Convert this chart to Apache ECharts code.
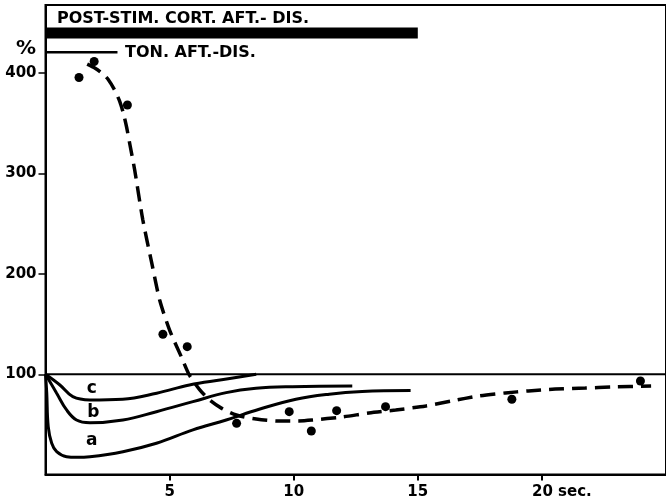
<!DOCTYPE html>
<html><head><meta charset="utf-8">
<script src="https://cdn.jsdelivr.net/npm/echarts@6/dist/echarts.min.js"></script>
<style>html,body{margin:0;padding:0;background:#fff}#c{width:666px;height:501px}</style>
</head><body><div id="c"></div>
<script>
const xTicks = [5, 10, 15, 20];
const yTicks = [100, 200, 300, 400];
const xLabels = ['5', '10', '15', '20'];
const yLabels = ['100', '200', '300', '400'];
const xUnit = 'sec.';

// measured points
const dotsX = [1.35, 1.96, 3.30, 4.73, 5.71, 7.70, 9.82, 10.71, 11.73, 13.70, 18.79, 23.97];
const dotsY = [395.7, 411.7, 368.3, 139.9, 127.5, 51.1, 62.7, 43.5, 63.7, 67.7, 75.1, 93.3];

// dashed fitted curve
const dashX = [1.68, 2.0, 2.28, 2.52, 2.79, 2.99, 3.14, 3.27, 3.40, 3.59, 3.92, 4.28, 4.60, 5.00, 5.48, 5.80, 6.20, 6.61, 7.10, 7.69, 8.49, 9.42, 10.20, 10.74, 11.95, 13.03, 14.11, 15.32, 16.37, 17.45, 18.53, 19.46, 20.54, 21.75, 22.80, 24.40];
const dashY = [409, 405, 400, 394, 383, 372, 360, 346, 329, 304, 254, 211, 174, 144, 117, 99, 85, 74.4, 66, 59.4, 55.4, 53.4, 53.5, 54.4, 57.4, 61.4, 64.4, 68.4, 73.4, 78.4, 81.4, 83.4, 85.3, 86.3, 87.3, 88.3];

// curve a
const aX = [0, 0.05, 0.11, 0.25, 0.45, 0.85, 1.25, 1.79, 3.12, 4.47, 5.94, 7.28, 8.61, 10.09, 11.43, 12.76, 14.71];
const aY = [100, 81.4, 47.8, 31.2, 22.8, 17.8, 17.2, 17.8, 22.8, 31.2, 44.5, 54.4, 65.1, 75.1, 80.1, 82.7, 83.7];
// curve b
const bX = [0, 0.45, 0.85, 1.25, 1.79, 3.12, 4.47, 5.94, 7.28, 8.48, 9.95, 12.36];
const bY = [100, 81.1, 64.4, 54.4, 51.7, 54.4, 62.7, 72.7, 81.7, 86.0, 87.6, 88.3];
// curve c
const cX = [0, 0.58, 1.10, 1.79, 3.11, 4.48, 5.80, 7.10, 8.49];
const cY = [100, 89.3, 77.7, 74.4, 75.1, 81.1, 89.3, 94.5, 100];

// reference line and bars
const refX = [0, 25];
const refY = [100, 100];
const postStimX = [0, 15];
const postStimY = [440, 440];
const tonX = [0, 2.9];
const tonY = [421, 421];

const zip = (xs, ys) => xs.map((x, i) => [x, ys[i]]);
const F = 'DejaVu Sans';

const chart = echarts.init(document.getElementById('c'), null, {renderer: 'canvas'});
const line = (xs, ys, w, extra) => Object.assign({
  type: 'line', data: zip(xs, ys), showSymbol: false, symbol: 'none',
  lineStyle: {color: '#000', width: w}, silent: true, animation: false
}, extra || {});

chart.setOption({
  animation: false,
  grid: {left: 45.5, right: -2, top: 5, bottom: 26.4, show: true, borderColor: '#000', borderWidth: 2},
  xAxis: {
    type: 'value', min: 0, max: 25, interval: 5,
    axisLine: {lineStyle: {color: '#000', width: 2}},
    axisTick: {show: true, length: 6, lineStyle: {color: '#000', width: 2}, customValues: xTicks},
    axisLabel: {customValues: xTicks, margin: 10, color: '#000', fontFamily: F, fontSize: 15, fontWeight: 'bold',
      formatter: v => { const i = xTicks.indexOf(v); if (i < 0) return '';
        return i === xTicks.length - 1 ? '{p|}' + xLabels[i] + '{s| ' + xUnit + '}' : xLabels[i]; },
      rich: {p: {width: 40}, s: {fontFamily: F, fontSize: 15, fontWeight: 'bold', color: '#000'}}},
    splitLine: {show: false}
  },
  yAxis: {
    type: 'value', min: 0, max: 468, interval: 100,
    axisLine: {lineStyle: {color: '#000', width: 2}},
    axisTick: {show: true, length: 7, lineStyle: {color: '#000', width: 1.5}, customValues: yTicks},
    axisLabel: {customValues: yTicks, margin: 9, color: '#000', fontFamily: F, fontSize: 15, fontWeight: 'bold',
      formatter: v => { const i = yTicks.indexOf(v); return i >= 0 ? yLabels[i] : ''; }},
    splitLine: {show: false}
  },
  series: [
    line(refX, refY, 2),
    line(postStimX, postStimY, 11, {lineStyle: {color: '#000', width: 11, cap: 'butt'}}),
    line(tonX, tonY, 2.5),
    line(aX, aY, 3, {smooth: 0.4}),
    line(bX, bY, 3, {smooth: 0.4}),
    line(cX, cY, 3, {smooth: 0.4}),
    line(dashX, dashY, 3.5, {smooth: 0.25, lineStyle: {color: '#000', width: 3.5, type: [15, 8]}}),
    {type: 'scatter', data: zip(dotsX, dotsY), symbol: 'circle', symbolSize: 9,
     itemStyle: {color: '#000', opacity: 1}, silent: true, animation: false}
  ]
});

const txt = (t, x, y, size, align) => ({
  type: 'text', x: x, y: y, silent: true,
  style: {text: t, font: 'bold ' + size + 'px "' + F + '"', fill: '#000', align: align || 'left', verticalAlign: 'middle'}
});
chart.setOption({
  graphic: [
    txt('POST-STIM. CORT. AFT.- DIS.', 57, 19, 16),
    txt('TON. AFT.-DIS.', 125, 52.5, 16),
    txt('%', 26, 49, 20, 'center'),
    txt('c', 91.7, 389, 17, 'center'),
    txt('b', 93.3, 413, 17, 'center'),
    txt('a', 91.7, 441, 17, 'center')
  ]
});
</script>
</body></html>
